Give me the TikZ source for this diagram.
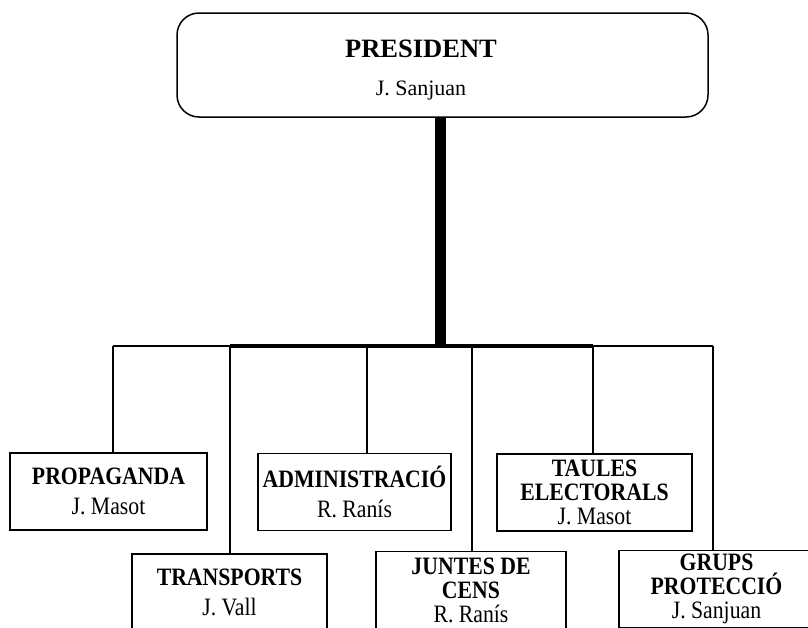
\documentclass[tikz,border=0pt]{standalone}
\usepackage{fontspec}
\setmainfont{Liberation Serif}
\newfontfamily\boxfont[FakeStretch=0.87]{Liberation Serif}

\tikzset{
  unit/.style={draw=black,line width=1.5pt,minimum width=195pt,minimum height=77pt,
    inner sep=0pt,align=center,font=\boxfont\fontsize{25}{24}\selectfont},
  drop/.style={line width=1.6pt},
}

\begin{document}
\begin{tikzpicture}[x=1pt,y=-1pt]
\useasboundingbox (0,0) rectangle (808,627);
\clip (0,0) rectangle (808,627);
% \draw[help lines,step=50] (0,0) grid (808,627);
\node (pres) [draw=black,line width=1.5pt,rounded corners=22pt,minimum width=531pt,minimum height=104pt] at (442.5,65) {};
\node (prestext) [align=center,inner sep=0pt,font=\fontsize{22}{38}\selectfont] at (421,70) {{\fontsize{26.5}{38}\selectfont\bfseries PRESIDENT}\\J. Sanjuan};
%
\node (prop) [unit,minimum width=197pt] at (108.5,491.5) {\textbf{PROPAGANDA}\\[6pt]J. Masot};
\node (adm) [unit,minimum width=193pt] at (354.5,492) {\textbf{ADMINISTRACIÓ}\\[6pt]R. Ranís};
\node (taul) [unit] at (594.5,492.5) {\textbf{TAULES}\\\textbf{ELECTORALS}\\J. Masot};
\node (trans) [unit] at (229.5,592.5) {\textbf{TRANSPORTS}\\[6pt]J. Vall};
% bottom of these two boxes lies below the page edge
\node (junt) [unit,minimum width=190pt] at (471,590) {\textbf{JUNTES DE}\\\textbf{CENS}\\R. Ranís};
\node (grups) [unit] at (716.5,589) {\textbf{GRUPS}\\\textbf{PROTECCIÓ}\\J. Sanjuan};
%
\coordinate (bus) at (440,346);
\coordinate (b1) at (113,346);
\coordinate (b2) at (230,346);
\coordinate (b3) at (367,346);
\coordinate (b4) at (472,346);
\coordinate (b5) at (593,346);
\coordinate (b6) at (713,346);
%
\draw[line width=11pt] (bus |- pres.south) -- ([yshift=-1.5pt]bus);
\draw[line width=2pt] (b1) -- (b2);
\draw[line width=3.5pt] (b2) -- (b5);
\draw[line width=2pt] (b5) -- (b6);
\draw[drop] (b1) -- (b1 |- prop.north);
\draw[drop] (b2) -- (b2 |- trans.north);
\draw[drop] (b3) -- (b3 |- adm.north);
\draw[drop] (b4) -- (b4 |- junt.north);
\draw[drop] (b5) -- (b5 |- taul.north);
\draw[drop] (b6) -- (b6 |- grups.north);
\end{tikzpicture}
\end{document}
